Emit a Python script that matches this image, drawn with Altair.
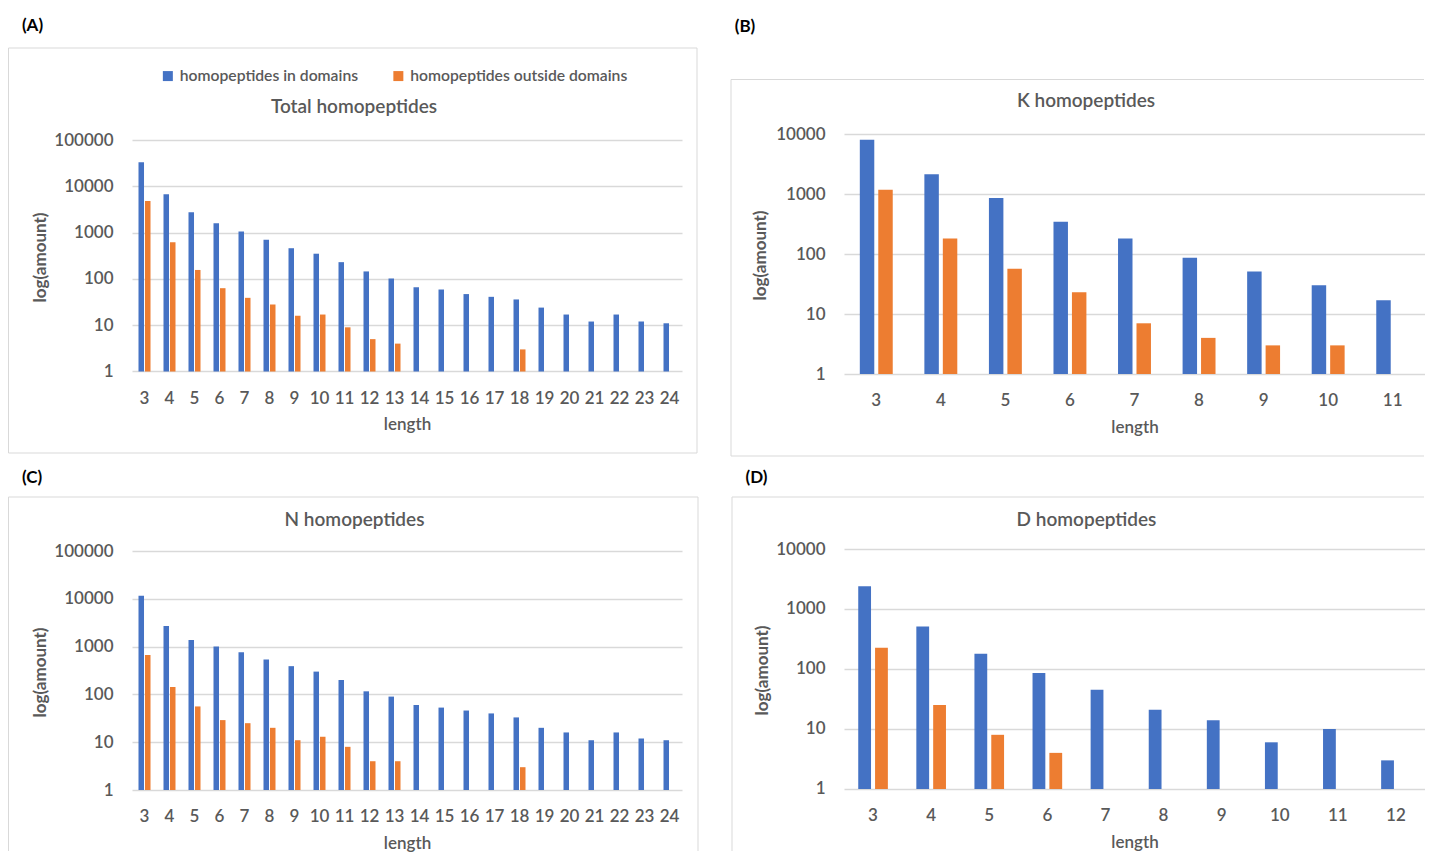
import altair as alt
import pandas as pd

SERIES = ["homopeptides in domains", "homopeptides outside domains"]
COLORS = ["#4472C4", "#ED7D31"]
GRID = "#D9D9D9"
FRAME = "#D9D9D9"
TXT = "#595959"
FONT = "Lato"
WT = 600

# ---- data ----
a_len = list(range(3, 25))
a_in = [33000, 6700, 2750, 1600, 1050, 700, 460, 350, 230, 145, 102, 66, 59, 47, 41, 36, 24, 17, 12, 17, 12, 11]
a_out = [4800, 620, 156, 63, 39, 28, 16, 17, 9, 5, 4, None, None, None, None, 3, None, None, None, None, None, None]

b_len = list(range(3, 12))
b_in = [8050, 2130, 860, 346, 182, 87, 51, 30, 17]
b_out = [1180, 182, 57, 23, 7, 4, 3, 3, None]

c_len = list(range(3, 25))
c_in = [11600, 2700, 1370, 1000, 760, 540, 390, 300, 200, 116, 90, 60, 53, 46, 40, 33, 20, 16, 11, 16, 12, 11]
c_out = [670, 143, 56, 29, 25, 20, 11, 13, 8, 4, 4, None, None, None, None, 3, None, None, None, None, None, None]

d_len = list(range(3, 13))
d_in = [2400, 510, 180, 86, 45, 21, 14, 6, 10, 3]
d_out = [225, 25, 8, 4, None, None, None, None, None, None]

ticks5 = [1, 10, 100, 1000, 10000, 100000]
ticks4 = [1, 10, 100, 1000, 10000]

ONE = pd.DataFrame({"k": [0]})


def make_df(lengths, vin, vout):
    rows = []
    for l, v in zip(lengths, vin):
        if v is not None:
            rows.append({"length": l, "series": SERIES[0], "value": v})
    for l, v in zip(lengths, vout):
        if v is not None:
            rows.append({"length": l, "series": SERIES[1], "value": v})
    return pd.DataFrame(rows)


def hline(x1, x2, y, opacity=1):
    return alt.Chart(ONE).mark_rule(color=FRAME, strokeWidth=1, strokeOpacity=opacity).encode(
        x=alt.value(x1), x2=alt.value(x2), y=alt.value(y))


def vline(x, y1, y2):
    return alt.Chart(ONE).mark_rule(color=FRAME, strokeWidth=1).encode(
        x=alt.value(x), y=alt.value(y1), y2=alt.value(y2))


def text(t, x, y, size, weight="normal", color=TXT):
    return alt.Chart(ONE).mark_text(font=FONT, fontSize=size, fontWeight=weight, color=color,
                                    align="center", baseline="middle").encode(
        x=alt.value(x), y=alt.value(y), text=alt.value(t))


def panel(df, lengths, width, height, ydomain, yticks, pad_in, off_in, ytitle_xy, xlab_pad, xtitle_y, legend=None):
    bars = alt.Chart(df).mark_bar().encode(
        x=alt.X("length:O",
                scale=alt.Scale(domain=lengths, paddingInner=pad_in, paddingOuter=pad_in / 2),
                axis=alt.Axis(title="length", labelAngle=0, labelPadding=xlab_pad, grid=False,
                              domain=False, ticks=False, tickSize=0,
                              labelFont=FONT, labelFontSize=17, labelFontWeight=WT, labelColor=TXT,
                              titleFont=FONT, titleFontSize=17, titleFontWeight=WT, titleColor=TXT,
                              titleY=xtitle_y, titleBaseline="middle")),
        xOffset=alt.XOffset("series:N", scale=alt.Scale(domain=SERIES, paddingInner=off_in, paddingOuter=0)),
        y=alt.Y("value:Q",
                scale=alt.Scale(type="log", domain=ydomain, nice=False),
                axis=alt.Axis(title="log(amount)", values=yticks, format="d", grid=True,
                              gridColor=GRID, gridWidth=1.3, domain=False, ticks=False, tickSize=0,
                              labelPadding=19, labelFont=FONT, labelFontSize=17, labelFontWeight=WT,
                              labelColor=TXT,
                              titleFont=FONT, titleFontSize=17, titleFontWeight="bold", titleColor=TXT,
                              titleAngle=270, titleX=ytitle_xy[0], titleY=ytitle_xy[1],
                              titleBaseline="middle", titleAlign="center")),
        y2=alt.datum(1),
        color=alt.Color("series:N", scale=alt.Scale(domain=SERIES, range=COLORS),
                        legend=legend if legend is not None else None),
    ).properties(width=width, height=height)
    return bars


legend_a = alt.Legend(orient="none", legendX=28, legendY=-66, direction="horizontal", columns=2,
                      title=None, symbolType="square", symbolSize=100, symbolStrokeWidth=0,
                      labelFont=FONT, labelFontSize=15.7, labelFontWeight=WT, labelColor=TXT,
                      labelOffset=4, labelLimit=0, columnPadding=31.5, padding=0)

W1, W2 = 550, 581

# Panel A (origin page 132,134)
A = alt.layer(
    panel(make_df(a_len, a_in, a_out), a_len, W1, 240, [0.883, 134800], ticks5, 0.52, 0.15,
          (-92, 123), 16, 50, legend=legend_a),
    hline(-123.5, 565, -86), hline(-123.5, 565, 319), vline(-123.5, -86, 319), vline(565, -86, 319),
    hline(-100, -90, -125.5, opacity=0),
    text("(A)", -99.5, -108.5, 17, "bold", "black"),
    text("Total homopeptides", 222, -27, 19, WT),
)

# Panel B (origin page 844,134)
B = alt.layer(
    panel(make_df(b_len, b_in, b_out), b_len, W2, 240, [1, 10000], ticks4, 0.49, 0.216,
          (-84, 121), 18, 53),
    hline(-113, 580, -54.5), hline(-113, 580, 322), vline(-113, -54.5, 322),
    text("(B)", -99, -107, 17, "bold", "black"),
    text("K homopeptides", 242, -33, 19, WT),
)

# Panel C (origin page 132,549)
C = alt.layer(
    panel(make_df(c_len, c_in, c_out), c_len, W1, 241, [1, 110200], ticks5, 0.52, 0.15,
          (-92, 123), 18, 53),
    hline(-123.5, 566, -52), vline(-123.5, -52, 302), vline(566, -52, 302),
    text("(C)", -100, -71.5, 17, "bold", "black"),
    text("N homopeptides", 222.5, -29, 19, WT),
)

# Panel D (origin page 844,549)
D = alt.layer(
    panel(make_df(d_len, d_in, d_out), d_len, W2, 241, [0.962, 10000], ticks4, 0.49, 0.24,
          (-82, 121), 17, 52),
    hline(-112, 580, -52), vline(-112, -52, 302),
    text("(D)", -87.5, -71.5, 17, "bold", "black"),
    text("D homopeptides", 242.5, -29, 19, WT),
)

chart = alt.concat(
    A, B, C, D, columns=2, spacing={"row": 175, "column": 162}, bounds="flush", align="each"
).resolve_scale(color="independent", xOffset="independent").properties(
    padding={"left": 0, "top": 0, "right": 0, "bottom": 0}
).configure(background="white").configure_view(strokeWidth=0, stroke="transparent")

chart.save("out.html", embed_options={"renderer": "svg", "actions": False})
